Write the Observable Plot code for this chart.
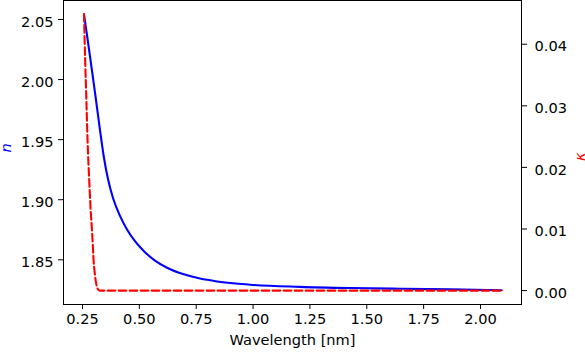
<!DOCTYPE html>
<html><head><meta charset="utf-8">
<script src="https://cdn.jsdelivr.net/npm/d3@7"></script>
<script src="https://cdn.jsdelivr.net/npm/@observablehq/plot@0.6"></script>
<style>
html,body{margin:0;padding:0;background:#fff;}
#chart{position:relative;width:585px;height:352px;}
#chart svg{position:absolute;left:0;top:0;}
</style></head><body><div id="chart"></div>
<script>
// refractive index n (blue, left axis)
const nWavelength = [0.2566, 0.2698, 0.2852, 0.2975, 0.3094, 0.3270, 0.3446, 0.3621, 0.3841, 0.4149, 0.4457, 0.4809, 0.5028, 0.5248, 0.5688, 0.6216, 0.6919, 0.7667, 0.8414, 0.9865, 1.2063, 1.4262, 1.6460, 1.8659, 2.0932];
const nValues     = [2.0540, 2.0371, 2.0163, 1.9996, 1.9830, 1.9580, 1.9347, 1.9172, 1.9014, 1.8865, 1.8752, 1.8655, 1.8606, 1.8563, 1.8493, 1.8434, 1.8381, 1.8344, 1.8320, 1.8293, 1.8275, 1.8265, 1.8259, 1.8254, 1.8246];
// extinction coefficient kappa (red dashed, right axis)
const kWavelength = [0.2566, 0.2619, 0.2672, 0.2724, 0.2782, 0.2852, 0.2944, 0.2988, 0.3041, 0.3094, 0.3146, 0.3204, 0.3270, 2.0932];
const kValues     = [0.0449, 0.0373, 0.0308, 0.0243, 0.0190, 0.0136, 0.0081, 0.0049, 0.0028, 0.0013, 0.0005, 0.0001, 0.0000, 0.0000];
// ticks & labels
const xTicks = [0.25, 0.50, 0.75, 1.00, 1.25, 1.50, 1.75, 2.00];
const nTicks = [1.85, 1.90, 1.95, 2.00, 2.05];
const kTicks = [0.00, 0.01, 0.02, 0.03, 0.04];
const xLabel = "Wavelength [nm]";
const nLabel = "n";
const kLabel = "κ";

const W = 585, H = 352;
const M = {top: 0, right: 64, bottom: 48, left: 63};
const xDomain = [0.1665, 2.1803];
const nDomain = [1.8128, 2.0658];
const kDomain = [-0.00226, 0.0471];
const FS = 14.6;
const style = {fontFamily: "'DejaVu Sans', sans-serif", fontSize: FS + "px", color: "black", background: "transparent", overflow: "visible"};
const fmt = d3.format(".2f");

const nData = nWavelength.map((x, i) => ({x, y: nValues[i]}));
const kData = kWavelength.map((x, i) => ({x, y: kValues[i]}));

const base = {width: W, height: H, marginTop: M.top, marginRight: M.right, marginBottom: M.bottom, marginLeft: M.left, style};

const plotN = Plot.plot({
  ...base,
  x: {domain: xDomain},
  y: {domain: nDomain},
  marks: [
    Plot.lineY(nData, {x: "x", y: "y", stroke: "blue", strokeWidth: 2.1, curve: "monotone-x"}),
    Plot.axisX({ticks: xTicks, tickSize: 5, tickPadding: 4, tickFormat: fmt, label: null, fontSize: FS}),
    Plot.axisY({ticks: nTicks, tickSize: 5, tickFormat: () => "", label: null}),
    Plot.axisY({ticks: nTicks, tickSize: 0, tickPadding: 10, dy: 2.5, tickFormat: fmt, label: null, fontSize: FS}),
    Plot.text([xLabel], {frameAnchor: "bottom", dy: 40, text: d => d, fontSize: FS, fill: "black"}),
    Plot.text([nLabel], {frameAnchor: "left", dx: -57.5, rotate: -90, text: d => d, fontSize: FS, fontStyle: "italic", fill: "blue"}),
    Plot.frame({stroke: "black"})
  ]
});

const plotK = Plot.plot({
  ...base,
  x: {domain: xDomain, axis: null},
  y: {domain: kDomain},
  marks: [
    Plot.lineY(kData, {x: "x", y: "y", stroke: "red", strokeWidth: 2.1, strokeDasharray: "7.7,3.3", curve: "monotone-x"}),
    Plot.axisY({anchor: "right", ticks: kTicks, tickSize: 5, tickFormat: () => "", label: null}),
    Plot.axisY({anchor: "right", ticks: kTicks, tickSize: 0, tickPadding: 13, dy: 2.5, tickFormat: fmt, label: null, fontSize: FS}),
    Plot.text([kLabel], {frameAnchor: "right", dx: 59, rotate: -90, text: d => d, fontSize: FS, fontStyle: "italic", fill: "red"})
  ]
});

const el = document.getElementById("chart");
el.appendChild(plotN);
el.appendChild(plotK);
</script></body></html>
